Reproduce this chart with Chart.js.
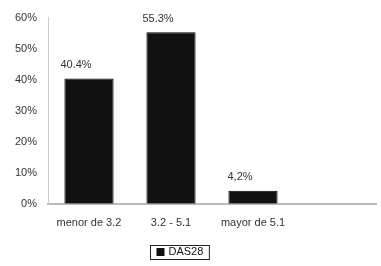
<!DOCTYPE html>
<html lang="es">
<head>
    <meta charset="UTF-8">
    <title>DAS28</title>
    <script src="https://cdn.jsdelivr.net/npm/chart.js"></script>
    <style>
        html, body { margin: 0; padding: 0; background: #fff; }
        #wrap { width: 381px; height: 266px; }
    </style>
</head>
<body>
    <div id="wrap"><canvas id="das28Chart" width="381" height="266"></canvas></div>

    <script>
        // data
        const categories = ['menor de 3.2', '3.2 - 5.1', 'mayor de 5.1', ''];
        const das28 = [40.4, 55.3, 4.2, null];
        const valueLabels = ['40.4%', '55.3%', '4,2%', ''];
        const seriesName = 'DAS28';

        const FONT = '"Liberation Sans", Arial, sans-serif';

        // labels above bars (the original sets them a little left of the bar centre)
        const barLabels = {
            id: 'barLabels',
            afterDatasetsDraw(chart) {
                const ctx = chart.ctx;
                const meta = chart.getDatasetMeta(0);
                ctx.save();
                ctx.font = '11px ' + FONT;
                ctx.fillStyle = '#333';
                ctx.textAlign = 'center';
                ctx.textBaseline = 'bottom';
                meta.data.forEach((bar, i) => {
                    if (das28[i] == null) return;
                    ctx.fillText(valueLabels[i], bar.x - 13, bar.y - 8);
                });
                ctx.restore();
            }
        };

        // framed legend under the axis labels (sits a bit left of centre, like the original)
        const boxedLegend = {
            id: 'boxedLegend',
            afterDraw(chart) {
                const ctx = chart.ctx;
                const ds = chart.data.datasets[0];
                ctx.save();
                ctx.font = '11px ' + FONT;
                const tw = ctx.measureText(ds.label).width;
                const w = 8 + 4 + tw + 12;
                const h = 14;
                const cx = chart.width / 2 - 11;
                const cy = chart.chartArea.bottom + 48;
                const left = Math.round(cx - w / 2) + 0.5;
                const top = Math.round(cy - h / 2) + 0.5;
                ctx.strokeStyle = '#222';
                ctx.lineWidth = 1;
                ctx.strokeRect(left, top, w, h);
                ctx.fillStyle = ds.backgroundColor;
                ctx.fillRect(left + 6, Math.round(cy) - 4, 8, 8);
                ctx.fillStyle = '#111';
                ctx.textBaseline = 'middle';
                ctx.fillText(ds.label, left + 18, cy + 0.5);
                ctx.restore();
            }
        };

        const ctx = document.getElementById('das28Chart').getContext('2d');
        const chart = new Chart(ctx, {
            type: 'bar',
            data: {
                labels: categories,
                datasets: [{
                    label: seriesName,
                    data: das28,
                    backgroundColor: '#111',
                    borderColor: '#000',
                    borderWidth: 1,
                    categoryPercentage: 1,
                    barPercentage: 0.6
                }]
            },
            options: {
                responsive: false,
                animation: false,
                layout: { padding: { top: 12, right: 5, bottom: 31, left: 0 } },
                plugins: {
                    tooltip: { enabled: false },
                    legend: { display: false }
                },
                scales: {
                    x: {
                        grid: { display: false },
                        border: { color: '#bbb', width: 2 },
                        ticks: {
                            color: '#333',
                            padding: 5,
                            maxRotation: 0,
                            font: { size: 11, family: FONT }
                        }
                    },
                    y: {
                        min: 0,
                        max: 60,
                        grid: { display: false, drawTicks: false },
                        border: { color: '#ccc', width: 1 },
                        ticks: {
                            stepSize: 10,
                            color: '#333',
                            padding: 11,
                            font: { size: 11, family: FONT },
                            callback: v => v + '%'
                        },
                        afterFit(scale) { scale.width = 48; }
                    }
                }
            },
            plugins: [barLabels, boxedLegend]
        });
    </script>
</body>
</html>
